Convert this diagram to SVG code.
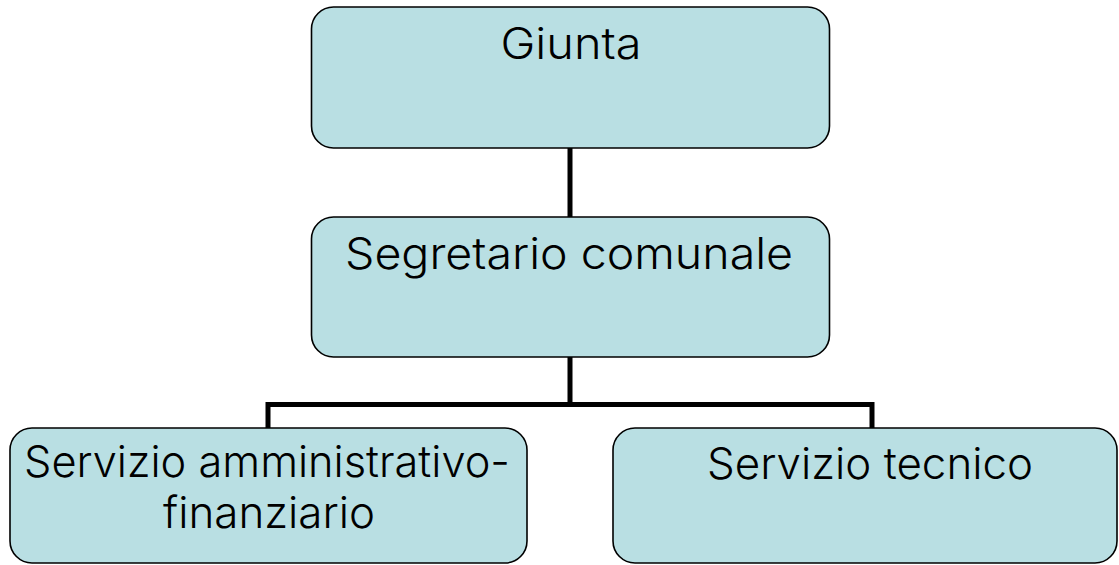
<svg xmlns="http://www.w3.org/2000/svg" width="1119" height="565" viewBox="0 0 1119 565">
<style>
.box{fill:#b9dfe3;stroke:#000;stroke-width:1.6}
.lbl{font-family:Inter,"DejaVu Sans","Liberation Sans",sans-serif;font-weight:300;font-size:44px;fill:#000;text-anchor:middle}
.conn{fill:none;stroke:#000;stroke-width:5;stroke-linejoin:miter}
</style>
<rect width="1119" height="565" fill="#fff"/>
<g id="connectors">
<path class="conn" d="M570 148 V217"/>
<path class="conn" d="M570 357 V404.5 M268 428 V404.5 H872 V428"/>
</g>
<g id="giunta">
<rect class="box" x="311.5" y="7" width="518" height="141" rx="22"/>
<text class="lbl" x="571" y="59" textLength="141" lengthAdjust="spacingAndGlyphs">Giunta</text>
</g>
<g id="segretario">
<rect class="box" x="311.5" y="217" width="518" height="140" rx="22"/>
<text class="lbl" x="569" y="269" textLength="448" lengthAdjust="spacingAndGlyphs">Segretario comunale</text>
</g>
<g id="servizio-amm">
<rect class="box" x="10" y="428" width="517" height="135" rx="22"/>
<text class="lbl" x="267" y="477" textLength="486" lengthAdjust="spacingAndGlyphs">Servizio amministrativo-</text>
<text class="lbl" x="269" y="528" textLength="212" lengthAdjust="spacingAndGlyphs">finanziario</text>
</g>
<g id="servizio-tec">
<rect class="box" x="613" y="428" width="504" height="135" rx="22"/>
<text class="lbl" x="870" y="479" textLength="326" lengthAdjust="spacingAndGlyphs">Servizio tecnico</text>
</g>
</svg>
